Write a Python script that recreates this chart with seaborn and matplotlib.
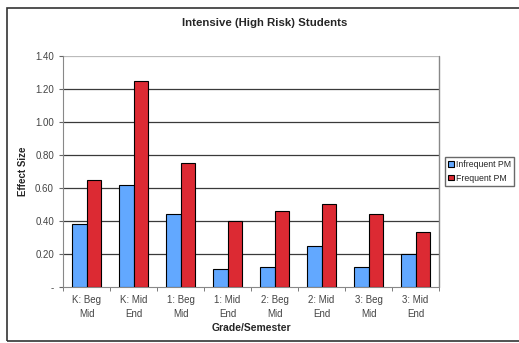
import numpy as np
import pandas as pd
import seaborn as sns
import matplotlib.pyplot as plt
from matplotlib.patches import Rectangle

categories = ["K: Beg\nMid", "K: Mid\nEnd", "1: Beg\nMid", "1: Mid\nEnd",
              "2: Beg\nMid", "2: Mid\nEnd", "3: Beg\nMid", "3: Mid\nEnd"]
infrequent = [0.38, 0.62, 0.44, 0.11, 0.12, 0.25, 0.12, 0.20]
frequent = [0.65, 1.25, 0.75, 0.40, 0.46, 0.50, 0.44, 0.33]
series = ["Infrequent PM", "Frequent PM"]
yticks = [0, 0.2, 0.4, 0.6, 0.8, 1.0, 1.2, 1.4]
ytick_labels = ["-", "0.20", "0.40", "0.60", "0.80", "1.00", "1.20", "1.40"]

df = pd.DataFrame({
    "Grade/Semester": categories * 2,
    "Effect Size": infrequent + frequent,
    "Series": [series[0]] * len(categories) + [series[1]] * len(categories),
})

sns.set_style("white")
plt.rcParams["font.family"] = ["Liberation Sans", "DejaVu Sans"]

fig = plt.figure(figsize=(5.19, 3.43), dpi=100)
ax = fig.add_axes([0.1214, 0.164, 0.7245, 0.6726])

palette = {series[0]: "#62a8ff", series[1]: "#dc2a33"}
sns.barplot(data=df, x="Grade/Semester", y="Effect Size", hue="Series",
            palette=palette, width=0.6, edgecolor="black", linewidth=0.8,
            saturation=1, ax=ax, zorder=3)

ax.set_ylim(0, 1.4)
ax.set_xlim(-0.5, len(categories) - 0.5)
ax.set_yticks(yticks)
ax.set_yticklabels(ytick_labels)
for y in yticks[1:]:
    ax.axhline(y, color="#3a3a3a" if y < 1.3 else "#bbbbbb", linewidth=0.9, zorder=1)

for side in ["top", "right"]:
    ax.spines[side].set_visible(False)
ax.spines["left"].set_color("#888888")
ax.spines["bottom"].set_color("#888888")
ax.plot([1, 1], [0, 1], transform=ax.transAxes, color="#888888", lw=1.0, clip_on=False)

ax.set_xticks(np.arange(-0.5, len(categories), 1.0), minor=True)
ax.tick_params(axis="x", which="major", length=0, labelsize=7, pad=6, colors="#444444")
ax.tick_params(axis="x", which="minor", length=3, color="#666666", bottom=True)
ax.tick_params(axis="y", length=3, labelsize=7, colors="#444444", left=True, color="#666666")
for lbl in ax.get_xticklabels():
    lbl.set_linespacing(1.5)

ax.set_xlabel("Grade/Semester", fontsize=7.5, fontweight="bold", labelpad=3)
ax.set_ylabel("Effect Size", fontsize=7, fontweight="bold", labelpad=5)

fig.text(0.51, 0.933, "Intensive (High Risk) Students", ha="center", va="center",
         fontsize=8.2, fontweight="bold")

ax.legend(loc="center left", bbox_to_anchor=(1.005, 0.5), fontsize=6.3, frameon=True,
          fancybox=False, edgecolor="#444444", handlelength=0.6, handleheight=0.6,
          handletextpad=0.3, borderpad=0.35, labelspacing=0.5)

fig.patches.append(Rectangle((0.013, 0.006), 0.99, 0.97, transform=fig.transFigure,
                             fill=False, edgecolor="#333333", linewidth=1.2))

fig.savefig("out.png", dpi=100)
